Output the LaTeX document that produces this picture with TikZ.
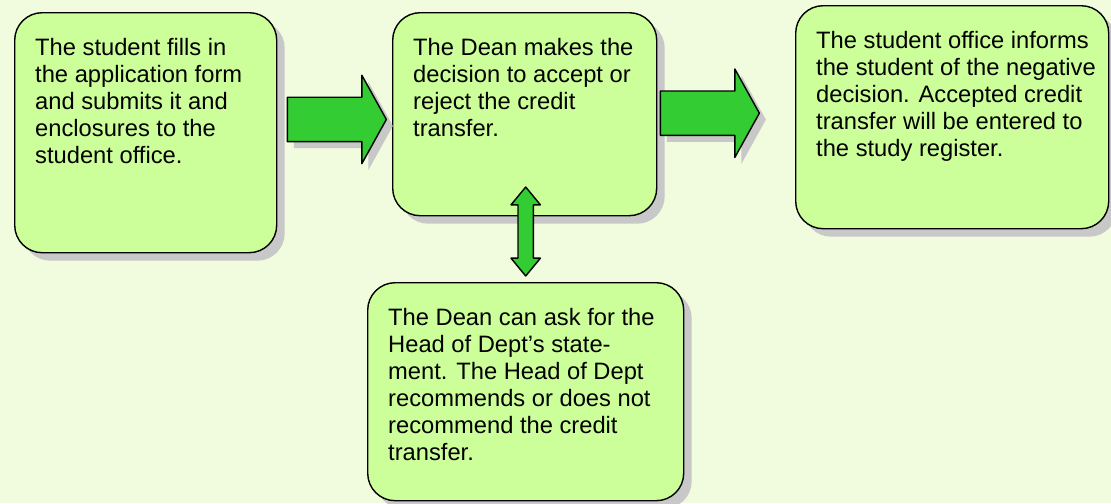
\documentclass[tikz,border=0pt]{standalone}
\usepackage{fontspec}
\setmainfont{Liberation Sans}
\usepackage{tikz}
\usetikzlibrary{calc, shapes.arrows, shadows}
\definecolor{bgcol}{HTML}{F1FBDD}
\definecolor{boxgreen}{HTML}{CCFF99}
\definecolor{arrowgreen}{HTML}{33CC33}
\definecolor{shadowgray}{HTML}{C8C8C8}
\newcommand{\boxtext}[3]{\parbox[c][#1][t]{#2}{\begin{tabular}[t]{@{}l@{}}#3\end{tabular}}}

\begin{document}
\begin{tikzpicture}[line cap=round,line join=round,
    stepbox/.style={draw=black, line width=0.8pt, fill=boxgreen, rounded corners=0.55cm,
        anchor=north west, inner xsep=0.41cm, inner ysep=0.48cm,
        font=\fontsize{13.5}{15.4}\selectfont,
        drop shadow={shadow xshift=0.16cm, shadow yshift=-0.16cm, fill=shadowgray, opacity=1}},
    flowarrow/.style={single arrow, draw=black, line width=0.8pt, fill=arrowgreen,
        inner xsep=0pt, inner ysep=0.43cm, minimum height=1.98cm,
        single arrow head extend=0.44cm, single arrow tip angle=122,
        drop shadow={shadow xshift=0.13cm, shadow yshift=-0.13cm, fill=shadowgray, opacity=1}},
    askarrow/.style={double arrow, draw=black, line width=0.8pt, fill=arrowgreen,
        inner xsep=0pt, inner ysep=0.14cm, minimum height=1.78cm,
        double arrow head extend=0.14cm, double arrow tip angle=79}]
        \fill [bgcol] (0,0) rectangle (22.22,10.06);
        \useasboundingbox (0,0) rectangle (22.22,10.06);
        \node [stepbox] (s1) at (0.28,9.82) {\boxtext{3.84cm}{4.42cm}{The student fills in\\ the application form\\ and submits it and\\ enclosures to the\\ student office.}};
        \node [stepbox] (s2) at (7.84,9.82) {\boxtext{3.10cm}{4.46cm}{The Dean makes the\\ decision to accept or\\ reject the credit\\ transfer.}};
        \node [stepbox] (s3) at (15.90,9.96) {\boxtext{3.50cm}{5.44cm}{The student office informs\\ the student of the negative\\ decision. Accepted credit\\ transfer will be entered to\\ the study register.}};
        \node [stepbox] (s4) at (7.34,4.42) {\boxtext{3.40cm}{5.50cm}{The Dean can ask for the\\ Head of Dept’s state-\\ ment. The Head of Dept\\ recommends or does not\\ recommend the credit\\ transfer.}};
        \node [flowarrow] (a1) at ($(s1.east)!0.5!(s2.west)+(-0.08,0.08)$) {};
        \node [flowarrow] (a2) at ($(s2.east)!0.5!(s3.west)+(-0.45,0.05)$) {};
        \node [askarrow, rotate=90] (a3) at ($(s4.north)+(0,1.01)$) {};
\end{tikzpicture}
\end{document}
